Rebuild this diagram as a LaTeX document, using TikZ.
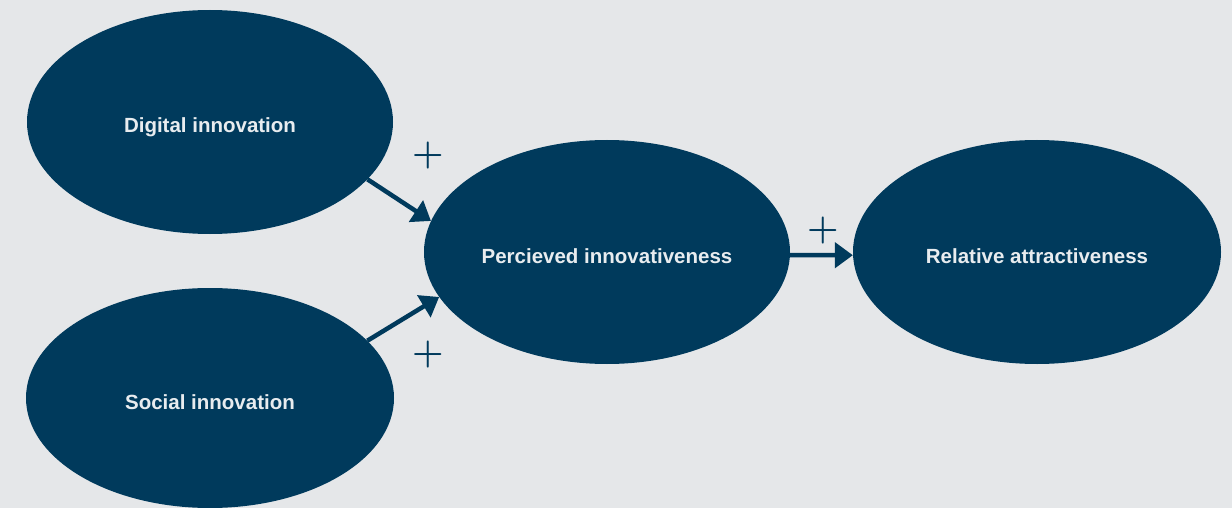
\documentclass[tikz,border=0pt]{standalone}
\usepackage{fontspec}
\newfontfamily\labelfont{Liberation Sans}
\usetikzlibrary{shapes.geometric,arrows.meta}
\definecolor{navy}{HTML}{003A5C}
\definecolor{paper}{HTML}{E5E7E9}
\definecolor{lbl}{HTML}{E8ECEF}
\begin{document}
\begin{tikzpicture}[x=1pt,y=-1pt,
  bubble/.style={ellipse,fill=navy,inner sep=0pt,minimum width=366pt,minimum height=224pt,
    text=lbl,text height=22pt,text depth=0pt,
    font=\labelfont\fontsize{20.5}{24}\selectfont\bfseries},
  link/.style={draw=navy,line width=4.5pt,-{Triangle[length=18pt,width=25pt]}},
  sign/.style={text=navy,inner sep=0pt,font=\rmfamily\bfseries\fontsize{36}{36}\selectfont}]
  \fill[paper] (0,0) rectangle (1232,508);
  \useasboundingbox (0,0) rectangle (1232,508);

  \node[bubble] (dig) at (210,122) {Digital innovation};
  \node[bubble,minimum width=368pt,minimum height=220pt] (soc) at (210,398) {Social innovation};
  \node[bubble] (per) at (607,252) {Percieved innovativeness};
  \node[bubble,minimum width=368pt] (rel) at (1037,252) {Relative attractiveness};

  \draw[link] (dig.-20.5) -- (per.170);
  \draw[link] (soc.20.5) -- (per.195.3);
  \draw[link] (per.-1.5) -- (rel.181.5);

  \node[sign] (p1) at (428,156) {+};
  \node[sign] (p2) at (428,355) {+};
  \node[sign] (p3) at (823,231) {+};
\end{tikzpicture}
\end{document}
